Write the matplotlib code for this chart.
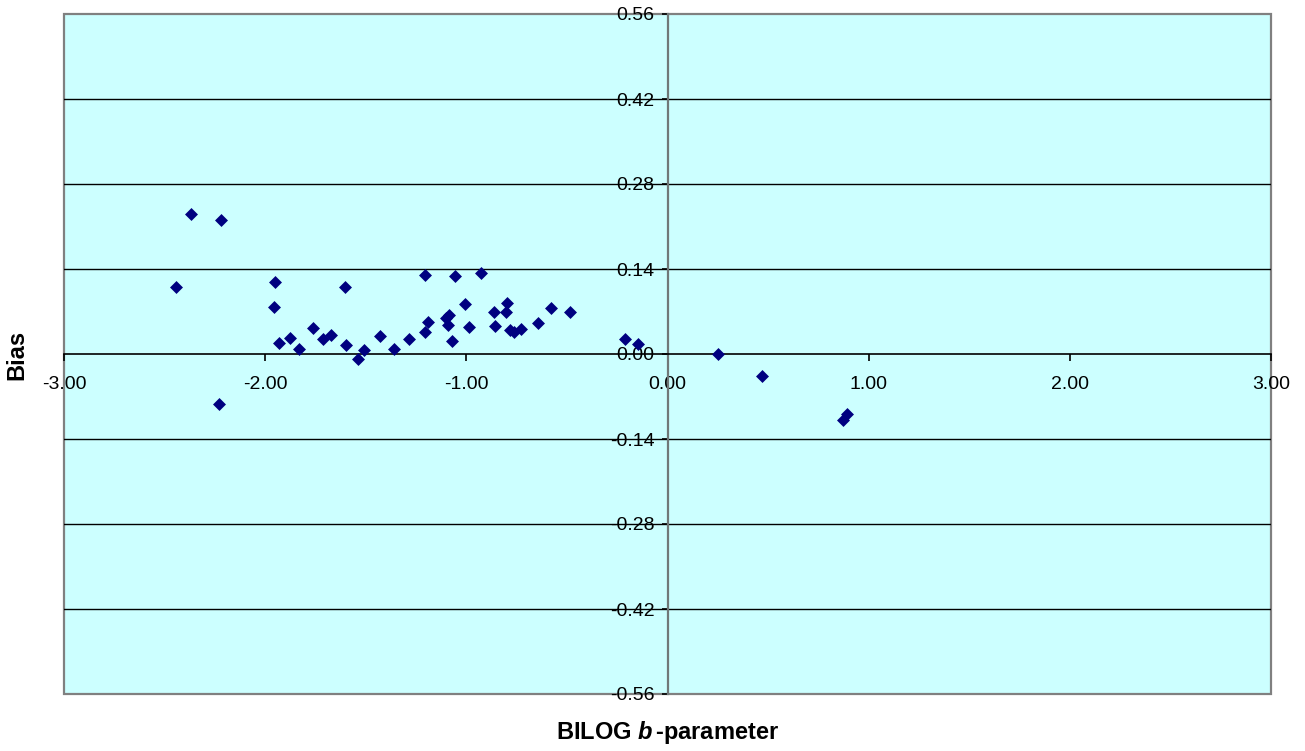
import matplotlib
matplotlib.use("Agg")
import matplotlib.pyplot as plt
import numpy as np

plt.rcParams['font.family'] = ['Liberation Sans', 'DejaVu Sans']
plt.rcParams['mathtext.fontset'] = 'custom'
plt.rcParams['mathtext.it'] = 'Liberation Sans:italic:bold'
plt.rcParams['mathtext.rm'] = 'Liberation Sans:bold'
plt.rcParams['mathtext.bf'] = 'Liberation Sans:bold'

# Data: BILOG b-parameter vs Bias
b_param = [-2.441, -2.370, -2.219, -2.230, -1.949, -1.954, -1.929, -1.879, -1.831,
           -1.763, -1.713, -1.672, -1.605, -1.596, -1.537, -1.511, -1.429, -1.358,
           -1.287, -1.205, -1.190, -1.205, -1.101, -1.088, -1.090, -1.073, -1.055,
           -1.006, -0.989, -0.925, -0.861, -0.856, -0.798, -0.802, -0.781, -0.761,
           -0.728, -0.645, -0.581, -0.484, -0.209, -0.148, 0.250, 0.471, 0.894, 0.872]
bias = [0.110, 0.230, 0.221, -0.082, 0.119, 0.078, 0.018, 0.026, 0.009,
        0.043, 0.024, 0.032, 0.110, 0.015, -0.009, 0.006, 0.029, 0.009,
        0.025, 0.130, 0.053, 0.036, 0.059, 0.065, 0.048, 0.022, 0.129,
        0.082, 0.045, 0.133, 0.070, 0.046, 0.084, 0.070, 0.040, 0.037,
        0.042, 0.051, 0.076, 0.070, 0.024, 0.017, 0.000, -0.037, -0.099, -0.109]

x_ticks = [-3, -2, -1, 0, 1, 2, 3]
x_ticklabels = ['-3.00', '-2.00', '-1.00', '0.00', '1.00', '2.00', '3.00']
y_ticks = [-0.56, -0.42, -0.28, -0.14, 0.0, 0.14, 0.28, 0.42, 0.56]
y_ticklabels = ['-0.56', '-0.42', '-0.28', '-0.14', '0.00', '0.14', '0.28', '0.42', '0.56']

W, H = 1305, 751
fig = plt.figure(figsize=(W / 100, H / 100), dpi=100)
fig.patch.set_facecolor('white')
L, R, T, B = 64, 1271, 14, 694
ax = fig.add_axes([L / W, 1 - B / H, (R - L) / W, (B - T) / H])
ax.set_facecolor('#CCFFFF')
ax.patch.set_edgecolor('#808080')
ax.patch.set_linewidth(1.6)

ax.set_xlim(-3, 3)
ax.set_ylim(-0.56, 0.56)

for yv in y_ticks[1:-1]:
    if yv != 0:
        ax.axhline(yv, color='black', lw=1.0, zorder=1)

ax.spines['top'].set_visible(False)
ax.spines['right'].set_visible(False)
ax.spines['left'].set_position(('data', 0))
ax.spines['bottom'].set_position(('data', 0))
ax.spines['left'].set_color('#707878')
ax.spines['left'].set_linewidth(1.6)
ax.spines['bottom'].set_color('black')
ax.spines['bottom'].set_linewidth(1.2)
ax.spines['left'].set_zorder(2)
ax.spines['bottom'].set_zorder(2)

ax.set_xticks(x_ticks)
ax.set_xticklabels(x_ticklabels)
ax.set_yticks(y_ticks)
ax.set_yticklabels(y_ticklabels)
ax.tick_params(axis='x', direction='out', length=5, width=1.2, color='black',
               labelsize=14, pad=11)
ax.tick_params(axis='y', direction='out', length=4.5, width=1.2, color='black',
               labelsize=14, pad=5)

ax.scatter(b_param, bias, marker='D', s=6.6 ** 2, color='#000080',
           linewidths=0, zorder=3, clip_on=False)

fig.text(668 / W, 1 - 733 / H, r'BILOG $\mathit{b}\,$-parameter', ha='center', va='center',
         fontsize=17, fontweight='bold')
fig.text(17 / W, 1 - 355 / H, 'Bias', ha='center', va='center', rotation=90,
         fontsize=17, fontweight='bold')

fig.savefig('out.png', dpi=100)
